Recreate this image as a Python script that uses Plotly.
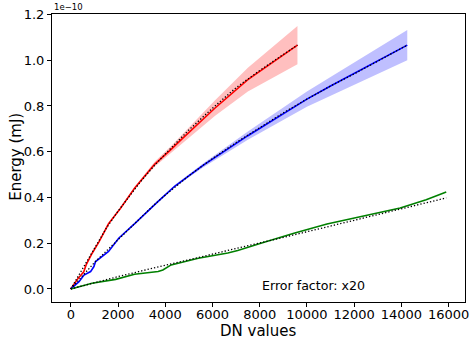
import plotly.graph_objects as go

# Values are in units of 1e-10 mJ (the axis offset shown as "1e−10")
red_x = [0, 300, 550, 650, 900, 1200, 1600, 2100, 2700, 3300, 3550, 4250, 4700, 6100, 7500, 9600]
red_y = [0, 0.045, 0.075, 0.105, 0.155, 0.207, 0.285, 0.352, 0.44, 0.515, 0.545, 0.61, 0.655, 0.79, 0.915, 1.066]
red_err = [0, 0, 0, 0.001, 0.001, 0.002, 0.003, 0.004, 0.006, 0.009, 0.011, 0.015, 0.019, 0.034, 0.052, 0.084]

blue_x = [0, 350, 560, 840, 980, 1050, 1600, 2030, 2730, 3300, 3700, 4400, 5000, 5600, 7500, 10000, 11000, 14250]
blue_y = [0, 0.032, 0.061, 0.076, 0.098, 0.12, 0.164, 0.222, 0.288, 0.346, 0.383, 0.449, 0.495, 0.54, 0.67, 0.83, 0.887, 1.066]
blue_err = [0, 0, 0, 0, 0.001, 0.001, 0.001, 0.002, 0.003, 0.004, 0.005, 0.006, 0.007, 0.009, 0.018, 0.033, 0.04, 0.066]

green_x = [0, 900, 1900, 2700, 3700, 3900, 4250, 5400, 6650, 7070, 8050, 9450, 10850, 12250, 13950, 15050, 15900]
green_y = [0, 0.025, 0.042, 0.064, 0.076, 0.083, 0.105, 0.134, 0.157, 0.168, 0.2, 0.244, 0.284, 0.317, 0.354, 0.39, 0.424]

red_fit_x = [0, 500, 1000, 1500, 2000, 2500, 3000, 3500, 4000, 5000, 6000, 7000, 8000, 9000, 9600]
red_fit_y = [0, 0.09, 0.18, 0.265, 0.34, 0.41, 0.475, 0.535, 0.59, 0.695, 0.79, 0.88, 0.955, 1.025, 1.066]

blue_fit_x = [0, 500, 1000, 1500, 2000, 2500, 3000, 3500, 4000, 5000, 6000, 7000, 8000, 9000, 10000, 11000, 12000, 13000, 14250]
blue_fit_y = [0, 0.06, 0.115, 0.165, 0.215, 0.265, 0.315, 0.365, 0.41, 0.495, 0.57, 0.64, 0.705, 0.77, 0.83, 0.887, 0.94, 0.995, 1.066]

green_fit_x = [0, 1000, 2000, 3000, 4000, 5000, 6000, 7000, 8000, 9000, 10000, 11000, 12000, 13000, 14000, 15000, 15900]
green_fit_y = [0, 0.028, 0.054, 0.079, 0.103, 0.127, 0.151, 0.175, 0.2, 0.224, 0.25, 0.275, 0.3, 0.325, 0.35, 0.375, 0.398]

x_ticks = [0, 2000, 4000, 6000, 8000, 10000, 12000, 14000, 16000]
y_ticks = [0.0, 0.2, 0.4, 0.6, 0.8, 1.0, 1.2]

fig = go.Figure()

def band(xs, ys, errs, color):
    up = [y + e for y, e in zip(ys, errs)]
    lo = [y - e for y, e in zip(ys, errs)]
    fig.add_trace(go.Scatter(x=xs + xs[::-1], y=up + lo[::-1], fill="toself",
                             fillcolor=color, line=dict(width=0), mode="lines",
                             hoverinfo="skip", showlegend=False))

band(red_x, red_y, red_err, "rgba(255,0,0,0.25)")
band(blue_x, blue_y, blue_err, "rgba(0,0,255,0.25)")

for xs, ys, c in [(red_x, red_y, "#ff0000"), (blue_x, blue_y, "#0000ff"), (green_x, green_y, "#008000")]:
    fig.add_trace(go.Scatter(x=xs, y=ys, mode="lines", line=dict(color=c, width=1.6), showlegend=False))

for xs, ys in [(red_fit_x, red_fit_y), (blue_fit_x, blue_fit_y), (green_fit_x, green_fit_y)]:
    fig.add_trace(go.Scatter(x=xs, y=ys, mode="lines", line=dict(color="black", width=1.3, dash="1.3px,2px"),
                             showlegend=False))

font = "DejaVu Sans"
fig.update_layout(
    width=473, height=342,
    margin=dict(l=52, r=4, t=14, b=40),
    plot_bgcolor="white", paper_bgcolor="white",
    font=dict(family=font, size=13, color="black"),
    xaxis=dict(range=[-795, 16695], tickvals=x_ticks, tickformat="d", ticklabeloverflow="allow",
               showline=True, linecolor="black", linewidth=1, mirror=True, ticklabelstandoff=-4,
               ticks="outside", ticklen=4, tickcolor="black", showgrid=False, zeroline=False),
    yaxis=dict(range=[-0.057, 1.202], tickvals=y_ticks, tickformat=".1f",
               showline=True, linecolor="black", linewidth=1, mirror=True,
               ticks="outside", ticklen=4, tickcolor="black", showgrid=False, zeroline=False),
    annotations=[
        dict(text="DN values", xref="paper", yref="paper", x=0.5, y=-0.1007, xanchor="center", yanchor="middle",
             showarrow=False, font=dict(size=15)),
        dict(text="Energy (mJ)", xref="paper", yref="paper", x=-0.089, y=0.505, xanchor="center", yanchor="middle",
             textangle=-90, showarrow=False, font=dict(size=15)),
        dict(text="1e\u221210", xref="paper", yref="paper", x=0, y=1, xanchor="left", yanchor="bottom",
             showarrow=False, font=dict(size=8.5)),
        dict(text="Error factor: x20", xref="x", yref="y", x=8000, y=0.015, xanchor="left", yanchor="middle",
             showarrow=False, font=dict(size=12.6)),
    ],
)

fig.write_html("out.html")
